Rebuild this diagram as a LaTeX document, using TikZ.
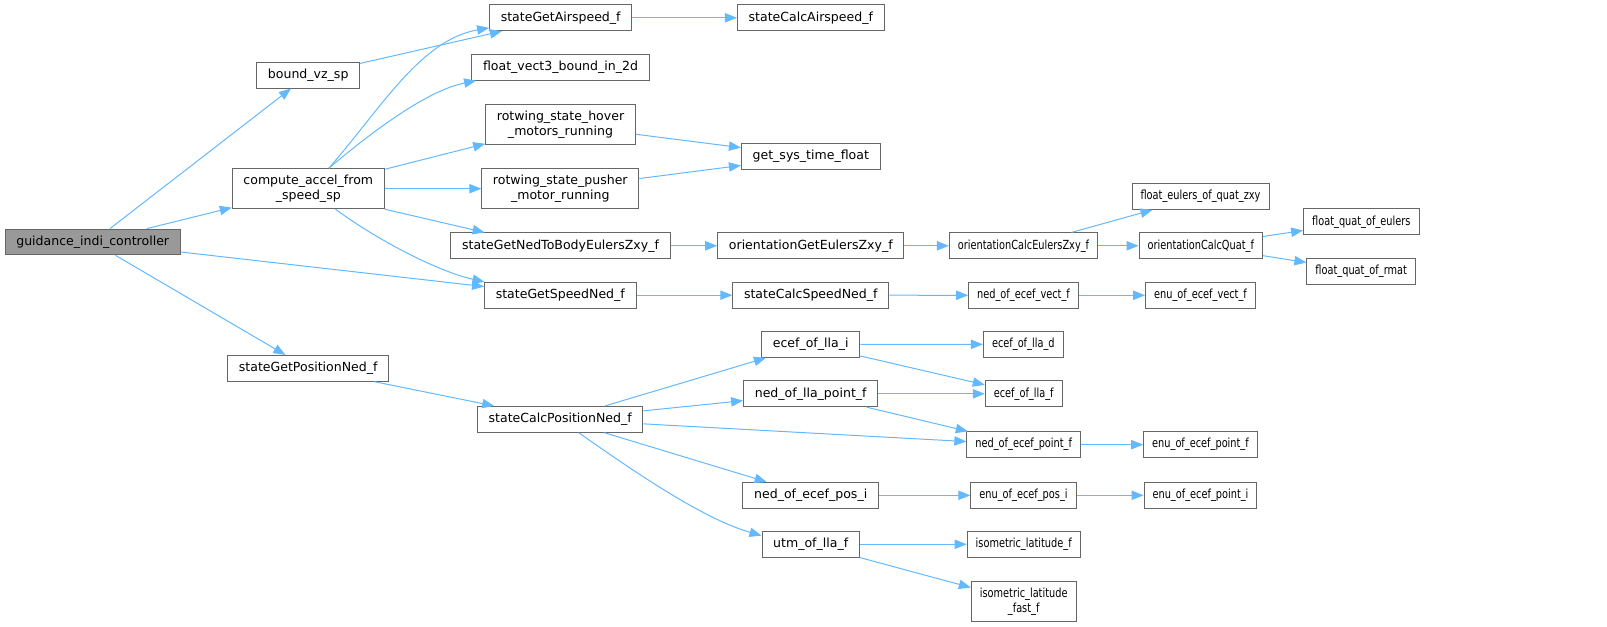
\documentclass[tikz,border=0pt]{standalone}
\usepackage{fontspec}
\setmainfont{DejaVu Sans}
\newfontfamily\narrowfont[FakeStretch=0.78]{DejaVu Sans}
\usetikzlibrary{arrows.meta}
\definecolor{edgeblue}{HTML}{63B8FF}
\definecolor{boxgray}{HTML}{666666}
\definecolor{rootgray}{HTML}{999999}

\begin{document}
\begin{tikzpicture}[->,>={Triangle[length=9pt,width=7pt]},x=0.75pt,y=-0.75pt,line width=0.75pt,color=edgeblue]
\tikzstyle{fn}=[rectangle,draw=boxgray,text=black,fill=white,inner xsep=8.4pt,inner ysep=0pt,minimum height=19.3pt,align=center,font=\fontsize{9.4}{10.75}\selectfont]
\tikzstyle{fntwo}=[fn,minimum height=30pt]
\tikzstyle{fnroot}=[fn,fill=rootgray]
\tikzstyle{fnnarrow}=[fn,inner xsep=6.4pt,font=\narrowfont\fontsize{9.4}{10.75}\selectfont]
\tikzstyle{fnnarrowtwo}=[fnnarrow,minimum height=30pt]
\useasboundingbox (0,0) rectangle (1607,627);
% caller and first level
\node[fnroot] (guid) at (92.7,242) {guidance\_indi\_controller};
\node[fn] (bvz) at (308.2,75.2) {bound\_vz\_sp};
\node[fntwo] (cafs) at (308.3,188.7) {compute\_accel\_from\\\_speed\_sp};
\node[fn] (sgpn) at (308.2,368.3) {stateGetPositionNed\_f};
% second level
\node[fn] (sga) at (560.7,17.8) {stateGetAirspeed\_f};
\node[fn] (fv3) at (560.5,67.3) {float\_vect3\_bound\_in\_2d};
\node[fntwo] (rhov) at (560.5,124.7) {rotwing\_state\_hover\\\_motors\_running};
\node[fntwo] (rpush) at (560.3,188.7) {rotwing\_state\_pusher\\\_motor\_running};
\node[fn] (sgne) at (560.5,245.8) {stateGetNedToBodyEulersZxy\_f};
\node[fn] (sgsn) at (560.3,295.2) {stateGetSpeedNed\_f};
\node[fn] (scpn) at (560.2,419.3) {stateCalcPositionNed\_f};
% third level
\node[fn] (sca) at (810.8,17.8) {stateCalcAirspeed\_f};
\node[fn] (gst) at (810.8,156.5) {get\_sys\_time\_float};
\node[fn] (oge) at (810.8,245.8) {orientationGetEulersZxy\_f};
\node[fn] (scsn) at (810.8,295.2) {stateCalcSpeedNed\_f};
\node[fn] (elli) at (810.7,344.5) {ecef\_of\_lla\_i};
\node[fn] (nllp) at (810.7,393.8) {ned\_of\_lla\_point\_f};
\node[fn] (neps) at (810.7,495.3) {ned\_of\_ecef\_pos\_i};
\node[fn] (utm) at (810.7,544.3) {utm\_of\_lla\_f};
% fourth level
\node[fnnarrow] (oce) at (1023.5,245.8) {orientationCalcEulersZxy\_f};
\node[fnnarrow] (nev) at (1023.5,295.3) {ned\_of\_ecef\_vect\_f};
\node[fnnarrow] (elld) at (1023.3,344.3) {ecef\_of\_lla\_d};
\node[fnnarrow] (ellf) at (1023.7,393.8) {ecef\_of\_lla\_f};
\node[fnnarrow] (nepf) at (1023.7,444.7) {ned\_of\_ecef\_point\_f};
\node[fnnarrow] (eeps) at (1023.5,495.3) {enu\_of\_ecef\_pos\_i};
\node[fnnarrow] (isof) at (1023.7,544.3) {isometric\_latitude\_f};
\node[fnnarrowtwo] (isoff) at (1023.7,601.8) {isometric\_latitude\\\_fast\_f};
% fifth and sixth level
\node[fnnarrow] (feq) at (1200.5,196.5) {float\_eulers\_of\_quat\_zxy};
\node[fnnarrow] (ocq) at (1200.8,245.8) {orientationCalcQuat\_f};
\node[fnnarrow] (eev) at (1200.5,295.3) {enu\_of\_ecef\_vect\_f};
\node[fnnarrow] (eepf) at (1200.5,444.7) {enu\_of\_ecef\_point\_f};
\node[fnnarrow] (eepi) at (1200.5,495.3) {enu\_of\_ecef\_point\_i};
\node[fnnarrow] (fqe) at (1361.3,221.8) {float\_quat\_of\_eulers};
\node[fnnarrow] (fqr) at (1361.2,271.2) {float\_quat\_of\_rmat};
\path (guid) edge (bvz)
             edge (cafs)
             edge (sgsn)
             edge (sgpn)
      (bvz) edge (sga)
      (cafs) edge (rhov)
             edge (rpush)
      (cafs.south east) edge (sgne.170)
      (sga) edge (sca)
      (rhov) edge (gst)
      (rpush) edge (gst)
      (sgne) edge (oge)
      (sgsn) edge (scsn)
      (oge) edge (oce)
      (scsn) edge (nev)
      (oce) edge (feq)
            edge (ocq)
      (ocq) edge (fqe)
            edge (fqr)
      (nev) edge (eev)
      (sgpn) edge (scpn)
      (scpn) edge (elli)
             edge (nllp)
             edge (nepf)
             edge (neps)
      (elli) edge (elld)
             edge (ellf)
      (nllp) edge (ellf)
             edge (nepf)
      (nepf) edge (eepf)
      (neps) edge (eeps)
      (eeps) edge (eepi)
      (utm) edge (isof)
            edge (isoff);
% curved calls
\draw (cafs.45) .. controls (380,110) and (420,40) .. (sga.188);
\draw (cafs.45) .. controls (380,125) and (430,90) .. (fv3.189);
\draw (cafs.-37) .. controls (380,242) and (440,272) .. (sgsn.170);
\draw (scpn.-36) .. controls (625,465) and (700,518) .. (utm.170);
\end{tikzpicture}
\end{document}
